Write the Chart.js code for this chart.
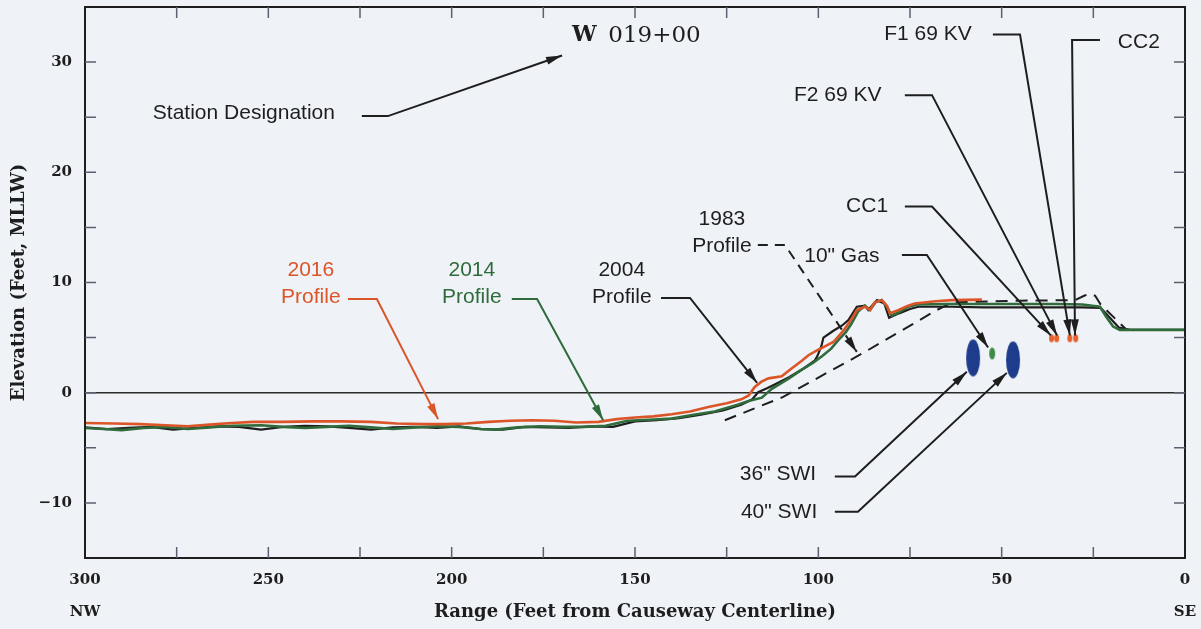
<!DOCTYPE html>
<html>
<head>
<meta charset="utf-8">
<script src="https://cdn.jsdelivr.net/npm/chart.js@4.4.1/dist/chart.umd.min.js"></script>
<style>
  html, body { margin: 0; padding: 0; background: #eff2f6; }
  #contenedor { width: 1201px; height: 629px; }
</style>
</head>
<body>
<div id="contenedor"><canvas id="perfil" width="1201" height="629"></canvas></div>
<script>
const rango2016 = [300, 292, 285, 278, 272, 266, 260, 254, 246, 238, 230, 222, 215, 208, 202, 196, 190, 184, 178, 172, 166, 160, 155, 150, 145, 140, 135, 130, 125, 121, 119, 117.4, 115.5, 113.6, 110, 107.3, 104.5, 102.7, 100, 98.2, 95.9, 93.2, 90.9, 89.5, 87.3, 85.9, 84.6, 82.7, 81.3, 80.5, 78.1, 75.5, 73.7, 68, 63.6, 55.4];
const elev2016  = [-2.75, -2.8, -2.85, -2.95, -3.05, -2.9, -2.75, -2.65, -2.65, -2.6, -2.6, -2.65, -2.8, -2.85, -2.85, -2.8, -2.65, -2.55, -2.5, -2.55, -2.7, -2.65, -2.4, -2.25, -2.15, -1.95, -1.7, -1.3, -0.95, -0.6, -0.25, 0.5, 1.0, 1.3, 1.5, 2.2, 2.9, 3.4, 3.9, 4.2, 4.6, 5.6, 6.7, 7.5, 7.8, 7.5, 8.2, 8.4, 7.9, 7.2, 7.5, 7.9, 8.1, 8.3, 8.4, 8.45];

const rango2014 = [300, 295, 290, 284, 278, 272, 266, 260, 252, 246, 240, 234, 228, 222, 216, 210, 204, 198, 192, 188, 182, 176, 170, 164, 158, 152, 146, 140, 134, 128.3, 122, 119, 115.4, 112.7, 108, 104.5, 101.5, 99, 96.5, 94.5, 92.5, 90.9, 89.1, 87.3, 85.9, 84.4, 82.7, 81.3, 80, 78, 75.5, 73, 65, 55, 45, 35, 28, 23.2, 21.5, 19.6, 17.8, 13.6, 0];
const elev2014  = [-3.2, -3.3, -3.4, -3.2, -3.1, -3.3, -3.15, -3.0, -2.95, -3.1, -3.2, -3.1, -3.0, -3.15, -3.3, -3.15, -3.05, -3.1, -3.3, -3.35, -3.15, -3.05, -3.1, -3.1, -3.0, -2.55, -2.45, -2.35, -2.0, -1.7, -1.1, -0.75, -0.45, 0.35, 1.3, 2.1, 2.7, 3.3, 4.0, 4.8, 5.5, 6.3, 7.4, 7.9, 7.5, 8.2, 8.4, 7.8, 7.0, 7.3, 7.8, 8.0, 8.05, 8.05, 8.05, 8.05, 8.0, 7.8, 6.9, 6.0, 5.7, 5.7, 5.7];

const rango2004 = [300, 294, 288, 282, 276, 270, 264, 258, 252, 246, 240, 234, 228, 222, 216, 210, 204, 198, 192, 186, 180, 174, 168, 162, 156, 150, 144, 138, 132, 126, 121, 118, 116.4, 114, 111.9, 108, 104, 101, 100.3, 99.2, 98.6, 96, 93.5, 91.8, 89.5, 87.3, 86.4, 84.0, 82.0, 80.7, 78, 75, 72.7, 68, 63.6, 55, 45, 35, 28, 23, 20.5, 18, 15, 0];
const elev2004  = [-3.15, -3.3, -3.2, -3.1, -3.35, -3.2, -3.05, -3.1, -3.35, -3.1, -3.0, -3.05, -3.2, -3.35, -3.15, -3.1, -3.2, -3.05, -3.3, -3.35, -3.1, -3.15, -3.2, -3.05, -3.1, -2.6, -2.5, -2.3, -2.0, -1.6, -1.1, -0.6, 0.05, 0.4, 0.75, 1.4, 2.2, 2.9, 3.3, 4.2, 5.0, 5.6, 6.1, 6.6, 7.8, 7.9, 7.5, 8.4, 8.1, 6.8, 7.2, 7.6, 7.8, 7.8, 7.8, 7.75, 7.75, 7.75, 7.75, 7.7, 6.8, 5.9, 5.7, 5.7];

const rango1983 = [125.5, 109.7, 87.8, 67.7, 63.5, 45, 30, 27.5, 26, 24.5, 23, 15.9, 0];
const elev1983  = [-2.5, -0.4, 3.6, 7.5, 8.2, 8.35, 8.4, 8.8, 9.0, 8.8, 8.0, 5.7, 5.7];

// Instalaciones enterradas
const swiRango = [57.8, 46.9];
const swiElev = [3.15, 2.97];
const gasRango = [52.6];
const gasElev = [3.56];
const cableRango = [36.4, 35.0, 31.4, 29.8];
const cableElev = [4.94, 4.94, 4.94, 4.94];

// Etiquetas de los ejes
const etiquetasX = [300, 250, 200, 150, 100, 50, 0];
const etiquetasY = [-10, 0, 10, 20, 30];

const naranja = '#dc5529';
const verde = '#2f6b3b';
const negro = '#1e1e1e';
const azul = '#1f3c8c';

function puntos(xs, ys) {
    return xs.map((x, i) => ({ x: x, y: ys[i] }));
}

// Elipse para usar como pointStyle
function elipse(w, h, color) {
    const c = document.createElement('canvas');
    c.width = w + 2; c.height = h + 2;
    const g = c.getContext('2d');
    g.fillStyle = color;
    g.beginPath();
    g.ellipse(c.width / 2, c.height / 2, w / 2, h / 2, 0, 0, Math.PI * 2);
    g.fill();
    return c;
}

// Notas con flechas (coordenadas en unidades de datos)
const notas = [
    { lineas: ['Station Designation'], x: 281.5, y: 25.4, align: 'left', color: negro, guia: [[224.5, 25.1], [217.4, 25.1], [169.9, 30.6]] },
    { lineas: ['2016', 'Profile'], x: 238.4, y: 11.1, color: naranja, guia: [[228.3, 8.5], [220.4, 8.5], [203.7, -2.4]] },
    { lineas: ['2014', 'Profile'], x: 194.5, y: 11.1, color: verde, guia: [[183.6, 8.5], [176.7, 8.5], [158.7, -2.5]] },
    { lineas: ['2004', 'Profile'], x: 153.6, y: 11.1, color: negro, guia: [[142.9, 8.6], [135.0, 8.6], [116.7, 0.9]] },
    { lineas: ['1983', 'Profile'], x: 126.3, y: 15.7, color: negro, dash: true, guia: [[116.5, 13.4], [109.1, 13.4], [89.5, 3.7]] },
    { lineas: ['10" Gas'], x: 93.6, y: 12.4, color: negro, guia: [[77.2, 12.5], [70.4, 12.5], [53.7, 4.1]] },
    { lineas: ['CC1'], x: 86.7, y: 16.9, color: negro, guia: [[76.4, 16.9], [69.0, 16.9], [36.6, 5.2]] },
    { lineas: ['F2 69 KV'], x: 94.7, y: 27.0, color: negro, guia: [[76.4, 27.0], [69.0, 27.0], [34.9, 5.2]] },
    { lineas: ['F1 69 KV'], x: 70.1, y: 32.5, color: negro, guia: [[52.4, 32.5], [45.0, 32.5], [31.4, 5.2]] },
    { lineas: ['CC2'], x: 12.6, y: 31.8, color: negro, guia: [[23.2, 32.0], [30.8, 32.0], [30.0, 5.2]] },
    { lineas: ['36" SWI'], x: 111.0, y: -7.4, color: negro, guia: [[95.5, -7.6], [90.0, -7.6], [59.5, 1.9]] },
    { lineas: ['40" SWI'], x: 110.7, y: -10.8, color: negro, guia: [[95.5, -10.8], [89.2, -10.8], [48.6, 1.8]] }
];

function punta(ctx, a, b, largo, ancho) {
    const ang = Math.atan2(b[1] - a[1], b[0] - a[0]);
    ctx.save();
    ctx.translate(b[0], b[1]);
    ctx.rotate(ang);
    ctx.beginPath();
    ctx.moveTo(0, 0);
    ctx.lineTo(-largo, -ancho);
    ctx.lineTo(-largo, ancho);
    ctx.closePath();
    ctx.fill();
    ctx.restore();
}

const decoracion = {
    id: 'decoracion',
    afterDraw(chart) {
        const ctx = chart.ctx;
        const sx = chart.scales.x, sy = chart.scales.y;
        const area = chart.chartArea;

        // marco
        ctx.save();
        ctx.strokeStyle = negro;
        ctx.lineWidth = 2;
        ctx.strokeRect(area.left, area.top, area.right - area.left, area.bottom - area.top);

        // marcas hacia dentro
        ctx.strokeStyle = '#5d6070';
        ctx.lineWidth = 1.5;
        ctx.beginPath();
        sx.ticks.forEach(t => {
            if (t.value <= 0 || t.value >= 300) return;
            const px = sx.getPixelForValue(t.value);
            ctx.moveTo(px, area.bottom); ctx.lineTo(px, area.bottom - 11);
            ctx.moveTo(px, area.top); ctx.lineTo(px, area.top + 11);
        });
        sy.ticks.forEach(t => {
            if (t.value <= -15 || t.value >= 35) return;
            const py = sy.getPixelForValue(t.value);
            ctx.moveTo(area.left, py); ctx.lineTo(area.left + 11, py);
            ctx.moveTo(area.right, py); ctx.lineTo(area.right - 11, py);
        });
        ctx.stroke();

        // NW / SE
        ctx.fillStyle = negro;
        ctx.font = 'bold 15px "DejaVu Serif"';
        ctx.textAlign = 'center';
        ctx.textBaseline = 'middle';
        ctx.fillText('NW', area.left, 612);
        ctx.fillText('SE', area.right, 612);

        // designacion de estacion: W en negrita, numero normal
        const wx = sx.getPixelForValue(167.2), wy = sy.getPixelForValue(32.4);
        ctx.textAlign = 'left';
        ctx.font = 'bold 22px "DejaVu Serif"';
        ctx.fillText('W', wx, wy);
        const anchoW = ctx.measureText('W ').width;
        ctx.font = '23px "DejaVu Serif"';
        ctx.fillText('019+00', wx + anchoW + 4, wy);

        // notas con flechas
        notas.forEach(n => {
            ctx.fillStyle = n.color;
            ctx.strokeStyle = n.color;
            ctx.font = '21px "Liberation Sans"';
            ctx.textAlign = n.align || 'center';
            ctx.textBaseline = 'middle';
            const tx = sx.getPixelForValue(n.x), ty = sy.getPixelForValue(n.y);
            n.lineas.forEach((l, i) => ctx.fillText(l, tx, ty + i * 27));

            const p = n.guia.map(g => [sx.getPixelForValue(g[0]), sy.getPixelForValue(g[1])]);
            ctx.lineWidth = 2;
            ctx.setLineDash(n.dash ? [10, 7] : []);
            ctx.beginPath();
            ctx.moveTo(p[0][0], p[0][1]);
            for (let i = 1; i < p.length; i++) ctx.lineTo(p[i][0], p[i][1]);
            ctx.stroke();
            ctx.setLineDash([]);
            punta(ctx, p[p.length - 2], p[p.length - 1], 16, 4);
        });
        ctx.restore();
    }
};

const fuenteEje = { family: '"DejaVu Serif"', size: 15, weight: 'bold' };
const fuenteTitulo = { family: '"DejaVu Serif"', size: 18, weight: 'bold' };

new Chart(document.getElementById('perfil'), {
    type: 'scatter',
    data: {
        datasets: [
            { label: 'Cables', data: puntos(cableRango, cableElev), pointStyle: elipse(5, 8, '#e8602a'), pointRadius: 4, order: 0 },
            { label: '10" Gas', data: puntos(gasRango, gasElev), pointStyle: elipse(6, 12, '#3d8a45'), pointRadius: 4, order: 0 },
            { label: 'SWI', data: puntos(swiRango, swiElev), pointStyle: elipse(14, 37, azul), pointRadius: 6, order: 0 },
            { label: '2016 Profile', data: puntos(rango2016, elev2016), showLine: true, borderColor: naranja, borderWidth: 2.6, pointRadius: 0, order: 1 },
            { label: '2014 Profile', data: puntos(rango2014, elev2014), showLine: true, borderColor: verde, borderWidth: 2.6, pointRadius: 0, order: 2 },
            { label: '2004 Profile', data: puntos(rango2004, elev2004), showLine: true, borderColor: negro, borderWidth: 2.2, pointRadius: 0, order: 3 },
            { label: '1983 Profile', data: puntos(rango1983, elev1983), showLine: true, borderColor: negro, borderWidth: 2, borderDash: [12, 8], pointRadius: 0, order: 4 }
        ]
    },
    options: {
        responsive: false,
        animation: false,
        layout: { padding: { top: 7, right: 16, left: 0, bottom: 0 } },
        plugins: { legend: { display: false }, tooltip: { enabled: false } },
        scales: {
            x: {
                type: 'linear', reverse: true, min: 0, max: 300,
                afterFit: s => { s.height = 71; s.paddingLeft = 0; s.paddingRight = 0; },
                border: { display: false },
                grid: { display: false, drawTicks: false },
                ticks: {
                    stepSize: 25, padding: 13, color: negro, font: fuenteEje, maxRotation: 0,
                    callback: v => etiquetasX.includes(v) ? String(v) : ''
                },
                title: { display: true, text: 'Range (Feet from Causeway Centerline)', color: negro, font: fuenteTitulo, padding: { top: 0, bottom: 6 } }
            },
            y: {
                min: -15, max: 35,
                afterFit: s => { s.width = 85; s.paddingTop = 0; s.paddingBottom = 0; },
                border: { display: false },
                grid: {
                    drawTicks: false,
                    lineWidth: 1.6,
                    color: c => c.tick && c.tick.value === 0 ? '#2a2a2a' : 'rgba(0,0,0,0)'
                },
                ticks: {
                    stepSize: 5, padding: 13, color: negro, font: fuenteEje,
                    callback: v => etiquetasY.includes(v) ? (v < 0 ? '\u2212' + Math.abs(v) : String(v)) : ''
                },
                title: { display: true, text: 'Elevation (Feet, MLLW)', color: negro, font: fuenteTitulo, padding: { top: 9, bottom: 0 } }
            }
        }
    },
    plugins: [decoracion]
});
</script>
</body>
</html>
